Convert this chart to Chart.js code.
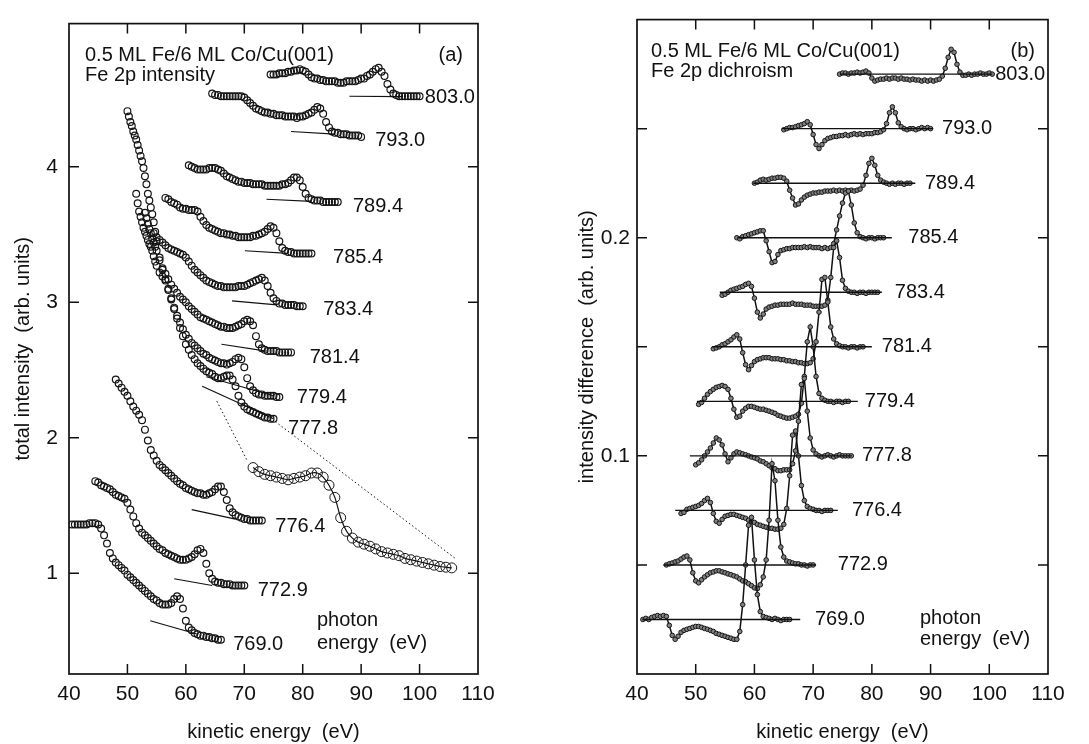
<!DOCTYPE html>
<html>
<head>
<meta charset="utf-8">
<script src="https://cdn.jsdelivr.net/npm/chart.js@4.4.1/dist/chart.umd.min.js"></script>
<style>
  html, body { margin: 0; padding: 0; background: #fff; }
  #wrap { position: relative; width: 1089px; height: 744px; overflow: hidden; }
  canvas { position: absolute; top: 0; }
  #chartA { left: 0; }
  #chartB { left: 545px; }
</style>
</head>
<body>
<div id="wrap">
  <canvas id="chartA" width="545" height="744"></canvas>
  <canvas id="chartB" width="544" height="744"></canvas>
</div>
<script>
const FONT = '"Liberation Sans", Arial, Helvetica, sans-serif';
const INK = '#111';

// photon energies (eV), bottom to top
const photonLabels = ['769.0', '772.9', '776.4', '777.8', '779.4', '781.4', '783.4', '785.4', '789.4', '793.0', '803.0'];

const xTickVals = [40, 50, 60, 70, 80, 90, 100, 110];
const xMarks = [50, 60, 70, 80, 90, 100];

// ---- (a) total intensity, 0.5 eV steps from the first kinetic energy ----
const stepA = 0.5;
const startA = [40.5, 44.5, 48, 55.5, 55.5, 55.5, 54.5, 56.5, 60.5, 64.5, 74.5];
const int769 = [1.36,1.36,1.36,1.36,1.36,1.36,1.37,1.37,1.37,1.36,1.33,1.28,1.22,1.15,1.11,1.08,1.06,1.04,1.02,0.99,0.97,0.95,0.93,0.91,0.89,0.87,0.85,0.83,0.81,0.80,0.78,0.77,0.77,0.77,0.78,0.81,0.83,0.81,0.74,0.65,0.60,0.58,0.56,0.55,0.54,0.54,0.53,0.53,0.52,0.52,0.51,0.51];
const int772 = [1.68,1.67,1.65,1.64,1.63,1.62,1.60,1.58,1.57,1.56,1.55,1.52,1.47,1.42,1.37,1.33,1.30,1.28,1.26,1.24,1.22,1.20,1.18,1.17,1.15,1.14,1.13,1.12,1.11,1.10,1.10,1.10,1.11,1.12,1.14,1.17,1.18,1.15,1.07,1.00,0.96,0.94,0.93,0.93,0.92,0.92,0.92,0.91,0.91,0.91,0.91,0.91];
const int776 = [2.43,2.40,2.37,2.34,2.31,2.27,2.23,2.20,2.17,2.13,2.06,1.98,1.91,1.87,1.83,1.80,1.78,1.76,1.74,1.72,1.70,1.68,1.66,1.65,1.63,1.62,1.61,1.60,1.59,1.59,1.58,1.58,1.59,1.60,1.62,1.64,1.64,1.60,1.54,1.48,1.45,1.43,1.42,1.41,1.40,1.40,1.39,1.39,1.39,1.39,1.39];
const int777 = [3.22,3.19,3.16,3.09,3.02,2.95,2.88,2.81,2.75,2.69,2.65,2.61,2.58,2.55,2.53,2.51,2.49,2.48,2.47,2.45,2.44,2.44,2.45,2.46,2.46,2.43,2.38,2.31,2.26,2.23,2.21,2.20,2.19,2.18,2.17,2.16,2.15,2.15,2.14,2.14];
const int779 = [3.33,3.24,3.17,3.10,3.03,2.96,2.90,2.85,2.80,2.76,2.73,2.70,2.68,2.66,2.64,2.62,2.61,2.59,2.58,2.57,2.56,2.55,2.55,2.54,2.55,2.56,2.58,2.59,2.58,2.52,2.44,2.38,2.35,2.33,2.32,2.32,2.31,2.31,2.31,2.31,2.30,2.30];
const int781 = [3.31,3.25,3.21,3.17,3.13,3.10,3.07,3.04,3.02,3.00,2.97,2.95,2.93,2.91,2.89,2.88,2.87,2.86,2.85,2.84,2.83,2.82,2.82,2.81,2.81,2.81,2.82,2.83,2.84,2.86,2.87,2.86,2.83,2.75,2.69,2.66,2.65,2.64,2.64,2.64,2.64,2.63,2.63,2.63,2.63,2.63];
const int783 = [3.51,3.48,3.46,3.44,3.42,3.40,3.39,3.38,3.37,3.36,3.35,3.33,3.30,3.27,3.24,3.22,3.20,3.18,3.16,3.15,3.14,3.13,3.12,3.12,3.11,3.11,3.11,3.11,3.11,3.12,3.12,3.12,3.13,3.14,3.15,3.16,3.17,3.18,3.16,3.12,3.07,3.03,3.01,2.99,2.99,2.98,2.98,2.98,2.98,2.97,2.97,2.97];
const int785 = [3.77,3.76,3.74,3.73,3.72,3.70,3.69,3.69,3.68,3.68,3.68,3.67,3.63,3.60,3.57,3.55,3.54,3.53,3.52,3.51,3.51,3.50,3.50,3.49,3.49,3.48,3.48,3.48,3.48,3.48,3.49,3.49,3.50,3.51,3.52,3.54,3.56,3.55,3.51,3.45,3.40,3.38,3.37,3.37,3.36,3.36,3.36,3.36,3.36,3.36,3.36];
const int789 = [4.01,4.00,3.99,3.98,3.98,3.98,3.98,3.99,3.99,3.99,3.98,3.97,3.95,3.93,3.92,3.91,3.90,3.89,3.89,3.88,3.88,3.88,3.87,3.87,3.87,3.87,3.86,3.86,3.86,3.86,3.86,3.86,3.87,3.87,3.88,3.90,3.92,3.92,3.90,3.85,3.80,3.77,3.76,3.75,3.75,3.75,3.74,3.74,3.74,3.74,3.74,3.74];
const int793 = [4.54,4.53,4.53,4.52,4.52,4.52,4.52,4.52,4.52,4.52,4.52,4.51,4.49,4.47,4.45,4.43,4.42,4.41,4.40,4.40,4.39,4.39,4.38,4.38,4.38,4.37,4.37,4.37,4.37,4.36,4.37,4.37,4.38,4.39,4.40,4.42,4.44,4.43,4.39,4.33,4.29,4.26,4.25,4.25,4.24,4.24,4.24,4.23,4.23,4.23,4.23,4.22];
const int803 = [4.68,4.68,4.68,4.69,4.69,4.69,4.70,4.70,4.71,4.71,4.72,4.71,4.70,4.68,4.66,4.65,4.65,4.64,4.64,4.63,4.63,4.63,4.63,4.62,4.62,4.62,4.63,4.63,4.63,4.63,4.64,4.65,4.65,4.67,4.68,4.70,4.72,4.73,4.70,4.67,4.61,4.57,4.54,4.53,4.52,4.52,4.52,4.52,4.52,4.52,4.52,4.52];
const intensityA = [int769, int772, int776, int777, int779, int781, int783, int785, int789, int793, int803];

// steep low-energy heads of 777.8, 779.4 and 781.4 (0.25 eV steps, up to 55 eV)
const headStep = 0.25;
const headStart = [51.5, 50, 53];
const head777 = [3.80,3.73,3.67,3.63,3.59,3.55,3.52,3.49,3.46,3.43,3.41,3.38,3.34,3.30,3.27];
const head779 = [4.41,4.37,4.33,4.30,4.26,4.23,4.20,4.16,4.12,4.08,4.04,3.99,3.93,3.87,3.80,3.75,3.70,3.65,3.59,3.52,3.45];
const head781 = [3.66,3.62,3.58,3.54,3.51,3.47,3.44,3.41,3.38];
const headsA = [head777, head779, head781];

// straight background under each spectrum: [kinetic energy, intensity] ends
const backgroundA = [
  [[53.9, 0.65], [62.0, 0.55]],
  [[58.0, 0.96], [64.5, 0.91]],
  [[61.0, 1.47], [68.5, 1.40]],
  [[62.8, 2.38], [75.0, 2.14]],
  [[63.5, 2.45], [75.0, 2.31]],
  [[66.1, 2.69], [73.8, 2.64]],
  [[67.9, 3.01], [75.6, 2.98]],
  [[70.1, 3.38], [77.5, 3.36]],
  [[73.8, 3.76], [81.5, 3.745]],
  [[78.0, 4.26], [85.5, 4.24]],
  [[88.0, 4.52], [97.0, 4.517]]
];
const labelKeA = [68.1, 72.3, 75.3, 77.5, 79.0, 81.2, 83.5, 85.2, 88.6, 92.4, 100.9];
const labelIA = [0.475, 0.876, 1.349, 2.07, 2.296, 2.594, 2.944, 3.33, 3.709, 4.197, 4.51];

// magnified view of the 777.8 eV peak, 1 eV steps
const zoomStart = 71.5;
const zoomStep = 1;
const zoom778 = [1.78,1.75,1.73,1.72,1.71,1.70,1.69,1.70,1.71,1.72,1.74,1.74,1.71,1.65,1.56,1.41,1.31,1.26,1.23,1.215,1.20,1.18,1.16,1.15,1.14,1.13,1.11,1.10,1.09,1.08,1.07,1.06,1.05,1.045,1.04];
const zoomLinks = [
  [[65.3, 2.27], [70.4, 1.84]],
  [[75.3, 2.12], [106.1, 1.11]]
];

// ---- (b) dichroism, 0.5 eV steps, values in 1e-3 about each baseline ----
const stepB = 0.5;
const startB = [41, 45, 47.5, 50, 50.5, 53, 54.5, 57, 60, 65, 74.5];
const offsetB = [0.025, 0.05, 0.075, 0.1, 0.125, 0.15, 0.175, 0.2, 0.225, 0.25, 0.275];
const dif769 = [0,0.5,0,0.9,1.4,1.8,1.4,1.8,1.4,-2.7,-7.3,-9.1,-7.7,-5.9,-5,-4.5,-4.1,-3.6,-3.2,-3.2,-3.6,-4.1,-4.5,-5,-5.5,-6.4,-6.8,-7.3,-7.7,-8.2,-8.6,-9.1,-9.1,-5.5,6.8,25,43.2,46.8,27.3,11.4,3.6,1.4,0.9,0.5,0,0.5,0,-0.5,0,0,0];
const dif772 = [0,0.5,0.9,1.4,1.8,2.7,3.6,4.1,2.3,-3.6,-7.3,-8.2,-6.8,-5.5,-4.5,-3.6,-3.2,-2.7,-2.7,-3.2,-3.6,-4.1,-4.5,-5,-5.5,-6.4,-7.3,-7.7,-8.6,-9.5,-10.5,-10.9,-9.1,-5.5,2.3,20.5,46.4,38.6,20.5,8.2,3.6,1.8,1.4,0.9,0.5,0.5,0,0,-0.5,0,0];
const dif776 = [-1.4,-0.9,0.5,0.9,1.4,1.8,2.3,3.2,4.5,5.5,3.6,-1.4,-5,-5.9,-4.1,-2.7,-2.3,-1.8,-1.8,-2.3,-2.7,-3.2,-3.6,-4.5,-5,-5.5,-6.4,-6.8,-7.3,-7.7,-8.2,-8.2,-8.6,-8.6,-8.2,-6.4,0.9,15.9,34.5,36.4,25,11.4,4.5,1.8,0.9,0.5,0,0,-0.5,0,0,0];
const dif777 = [-4.1,-3.2,-1.8,0,1.8,3.6,5.9,8.2,7.3,5,0.9,-2.7,-0.9,0.9,1.8,1.4,0.9,0.5,0,-0.5,-0.9,-1.4,-2.3,-2.7,-3.6,-4.5,-5.5,-5.9,-6.8,-6.8,-6.4,-6.4,-6.4,-3.6,2.3,15.9,32.7,35.5,20.5,8.2,2.7,0.9,0,-0.5,0,0.5,0,-0.5,0,0.5,0,0,0,0];
const dif779 = [-1.4,-0.5,1.4,3.2,4.5,5.5,6.4,6.8,7.3,6.8,5.5,1.4,-3.6,-7.3,-6.8,-4.5,-3.2,-2.3,-2.3,-2.7,-3.2,-3.6,-3.6,-4.1,-4.5,-5,-5.5,-6.4,-6.8,-7.3,-7.7,-7.7,-7.3,-6.8,-5.9,-0.9,11.4,27.3,34.1,25,11.4,3.6,1.4,0.5,0,0,-0.5,0,0,-0.5,0,0];
const dif781 = [-0.9,-0.5,0,0.9,1.4,2.3,3.2,4.5,5.5,3.6,-2.7,-8.2,-10.5,-8.6,-6.8,-5.9,-5.5,-5,-5,-5,-5.5,-5.5,-5.5,-5.9,-5.9,-6.4,-6.4,-6.8,-6.8,-7.3,-7.3,-7.7,-7.7,-7.3,-5.5,2.3,15.9,30.9,31.8,20.5,9.1,3.6,1.4,0.5,0,0,-0.5,0,0,-0.5,0,0];
const dif783 = [-1.4,-0.9,0,0.9,1.4,1.8,2.3,2.7,3.6,4.1,2.7,-2.7,-9.1,-11.8,-10,-7.7,-6.8,-6.4,-5.9,-5.9,-5.5,-5.5,-5.5,-5.5,-5,-5.5,-5.5,-5.5,-5.9,-5.9,-5.9,-6.4,-6.4,-6.4,-6.4,-5.9,-3.6,6.8,20.5,23.6,15.9,5.5,1.8,0.5,0,0,-0.5,0,0,-0.5,0,0,0,0];
const dif785 = [0,-0.5,0.5,0.9,1.4,1.8,2.3,2.7,3.2,3.2,-1.4,-6.4,-11.4,-10.9,-7.7,-5.9,-5.5,-5,-5,-4.5,-4.5,-4.5,-4.5,-4.1,-4.5,-4.1,-4.5,-4.5,-4.5,-5,-4.5,-5,-4.5,-2.7,3.6,10,15.9,20.5,21.4,15,6.8,2.3,0.5,0,-0.5,0,0,-0.5,0,0,0];
const dif789 = [0,0.5,1.4,1.8,1.4,1.8,2.3,2.3,2.7,2.7,2.3,0.9,-3.2,-6.8,-10,-9.5,-7.7,-6.4,-5.5,-5,-4.5,-4.5,-4.1,-4.1,-3.6,-3.6,-3.6,-3.2,-3.6,-3.2,-3.6,-3.2,-3.6,-3.2,-3.6,-3.2,-2.7,-0.9,3.6,9.1,11.4,8.2,3.6,1.4,0.5,0,-0.5,0,-0.5,0,0,-0.5,0,0];
const dif793 = [-0.5,0,0.5,0.5,0.9,1.4,1.8,2.3,3.2,1.8,-2.7,-7.3,-9.1,-7.3,-5.5,-4.5,-4.1,-3.6,-3.6,-3.2,-3.2,-2.7,-3.2,-2.7,-2.3,-2.7,-2.3,-2.7,-2.3,-2.3,-2.3,-1.8,-1.8,-1.4,-0.5,2.3,7.3,10,7.3,2.7,0.9,0,-0.5,0,0,-0.5,0,0.5,0,0.5,0];
const dif803 = [0,0.5,0.5,0,0.5,0.5,0.9,0.5,0.9,1.4,0.5,-1.8,-3.2,-2.7,-2.3,-2.3,-1.8,-2.3,-1.8,-1.8,-2.3,-1.8,-2.3,-2.3,-2.7,-2.3,-2.7,-2.7,-3.2,-2.7,-3.2,-2.7,-3.2,-2.7,-2.3,-0.9,2.7,7.7,11.4,10,4.5,0.9,-0.5,-0.5,0,-0.5,0,0,0.5,0,0,0.5,0];
const dichroismB = [dif769, dif772, dif776, dif777, dif779, dif781, dif783, dif785, dif789, dif793, dif803];
const baseFromB = [40.9, 44.5, 46.5, 49.0, 50.2, 52.8, 54.1, 57.2, 59.8, 64.7, 74.6];
const baseToB = [67.8, 70.5, 74.2, 76.6, 77.6, 80.0, 81.7, 83.4, 87.4, 90.4, 100.5];
const labelKeB = [70.3, 74.2, 76.6, 78.3, 78.8, 81.7, 83.9, 86.2, 89.05, 91.95, 101.0];

const series = (start, step, vals, off = 0, k = 1) =>
  vals.map((v, i) => ({ x: start + i * step, y: off + v * k }));
const seg = pair => pair.map(([x, y]) => ({ x, y }));

// frame, inward ticks, curve labels and captions
const decor = {
  id: 'decor',
  afterDraw(chart, args, o) {
    const { ctx, chartArea: a } = chart;
    const sx = chart.scales.x, sy = chart.scales.y;
    const L = 10;
    ctx.save();
    ctx.strokeStyle = INK;
    ctx.lineWidth = 1.7;
    ctx.strokeRect(a.left, a.top, a.right - a.left, a.bottom - a.top);
    ctx.lineWidth = 1.5;
    ctx.beginPath();
    o.xMarks.forEach(v => {
      const p = sx.getPixelForValue(v);
      ctx.moveTo(p, a.bottom); ctx.lineTo(p, a.bottom - L);
      ctx.moveTo(p, a.top); ctx.lineTo(p, a.top + L);
    });
    o.yMarks.forEach(v => {
      const p = sy.getPixelForValue(v);
      ctx.moveTo(a.left, p); ctx.lineTo(a.left + L, p);
      ctx.moveTo(a.right, p); ctx.lineTo(a.right - L, p);
    });
    ctx.stroke();
    ctx.fillStyle = INK;
    ctx.font = '20px ' + FONT;
    ctx.textBaseline = 'middle';
    ctx.textAlign = 'left';
    o.labels.forEach(l => ctx.fillText(l.text, sx.getPixelForValue(l.x), sy.getPixelForValue(l.y)));
    o.notes.forEach(n => {
      ctx.textAlign = n.align || 'left';
      ctx.fillText(n.text, a.left + n.dx, a.top + n.dy);
    });
    ctx.restore();
  }
};

function makeChart(id, cfg) {
  return new Chart(document.getElementById(id), {
    type: 'scatter',
    data: { datasets: cfg.datasets },
    options: {
      responsive: false,
      animation: false,
      events: [],
      devicePixelRatio: 1,
      layout: { padding: { left: 0, right: cfg.padRight, top: 15, bottom: 0 } },
      plugins: {
        legend: { display: false },
        tooltip: { enabled: false },
        decor: cfg.decor
      },
      scales: {
        x: {
          type: 'linear', min: 40, max: 110,
          afterBuildTicks: s => { s.ticks = xTickVals.map(v => ({ value: v })); },
          afterFit: s => { s.height = 70; },
          grid: { display: false, drawTicks: false },
          border: { display: false },
          ticks: { font: { family: FONT, size: 21 }, color: INK, padding: 8, maxRotation: 0, autoSkip: false },
          title: { display: true, text: 'kinetic energy  (eV)', font: { family: FONT, size: 20 }, color: INK, padding: { top: 0, bottom: 0 } }
        },
        y: {
          type: 'linear', min: cfg.yMin, max: cfg.yMax,
          afterBuildTicks: s => { s.ticks = cfg.yLabels.map(v => ({ value: v })); },
          afterFit: s => { s.width = cfg.yWidth; },
          grid: { display: false, drawTicks: false },
          border: { display: false },
          ticks: { font: { family: FONT, size: 21 }, color: INK, padding: cfg.yPad },
          title: { display: true, text: cfg.yTitle, font: { family: FONT, size: 20 }, color: INK, padding: { top: cfg.yTitlePad, bottom: 0 } }
        }
      }
    },
    plugins: [decor]
  });
}

// ---- panel (a) ----
const openCircle = {
  showLine: false, pointRadius: 3.4, pointBorderWidth: 1.2,
  pointBorderColor: '#151515', pointBackgroundColor: 'rgba(255,255,255,0)'
};
const dsA = [];
backgroundA.forEach(b => dsA.push({
  data: seg(b), showLine: true, borderColor: INK, borderWidth: 1.2, pointRadius: 0
}));
intensityA.forEach((vals, i) => dsA.push({ data: series(startA[i], stepA, vals), ...openCircle }));
headsA.forEach((vals, i) => dsA.push({ data: series(headStart[i], headStep, vals), ...openCircle }));
zoomLinks.forEach(l => dsA.push({
  data: seg(l), showLine: true, borderColor: INK, borderWidth: 1, borderDash: [1.5, 2.5], pointRadius: 0
}));
dsA.push({
  data: series(zoomStart, zoomStep, zoom778),
  showLine: true, tension: 0.35, borderColor: INK, borderWidth: 1.2,
  pointRadius: 5, pointBorderWidth: 1, pointBorderColor: '#151515', pointBackgroundColor: 'rgba(255,255,255,0)'
});

makeChart('chartA', {
  datasets: dsA,
  padRight: 67,
  yMin: 0.257, yMax: 5.056, yLabels: [1, 2, 3, 4], yWidth: 69, yPad: 11,
  yTitle: 'total intensity  (arb. units)', yTitlePad: 11,
  decor: {
    xMarks, yMarks: [1, 2, 3, 4],
    labels: photonLabels.map((t, i) => ({ text: t, x: labelKeA[i], y: labelIA[i] })),
    notes: [
      { text: '0.5 ML Fe/6 ML Co/Cu(001)', dx: 16, dy: 32 },
      { text: 'Fe 2p intensity', dx: 16, dy: 52 },
      { text: '(a)', dx: 394, dy: 32, align: 'right' },
      { text: 'photon', dx: 248, dy: 597 },
      { text: 'energy  (eV)', dx: 248, dy: 620 }
    ]
  }
});

// ---- panel (b) ----
const dsB = [];
offsetB.forEach((off, i) => dsB.push({
  data: [{ x: baseFromB[i], y: off }, { x: baseToB[i], y: off }],
  showLine: true, borderColor: INK, borderWidth: 1.4, pointRadius: 0
}));
dichroismB.forEach((vals, i) => dsB.push({
  data: series(startB[i], stepB, vals, offsetB[i], 0.001),
  showLine: true, borderColor: INK, borderWidth: 1.5,
  pointRadius: 2.3, pointBorderWidth: 1, pointBorderColor: '#151515', pointBackgroundColor: '#808080'
}));

makeChart('chartB', {
  datasets: dsB,
  padRight: 41,
  yMin: 0, yMax: 0.3, yLabels: [0.1, 0.2], yWidth: 92, yPad: 7,
  yTitle: 'intensity difference  (arb. units)', yTitlePad: 30,
  decor: {
    xMarks, yMarks: [0.05, 0.1, 0.15, 0.2, 0.25],
    labels: photonLabels.map((t, i) => ({ text: t, x: labelKeB[i], y: offsetB[i] })),
    notes: [
      { text: '0.5 ML Fe/6 ML Co/Cu(001)', dx: 14, dy: 32 },
      { text: 'Fe 2p dichroism', dx: 14, dy: 52 },
      { text: '(b)', dx: 398, dy: 32, align: 'right' },
      { text: 'photon', dx: 283, dy: 599 },
      { text: 'energy  (eV)', dx: 283, dy: 620 }
    ]
  }
});
</script>
</body>
</html>
